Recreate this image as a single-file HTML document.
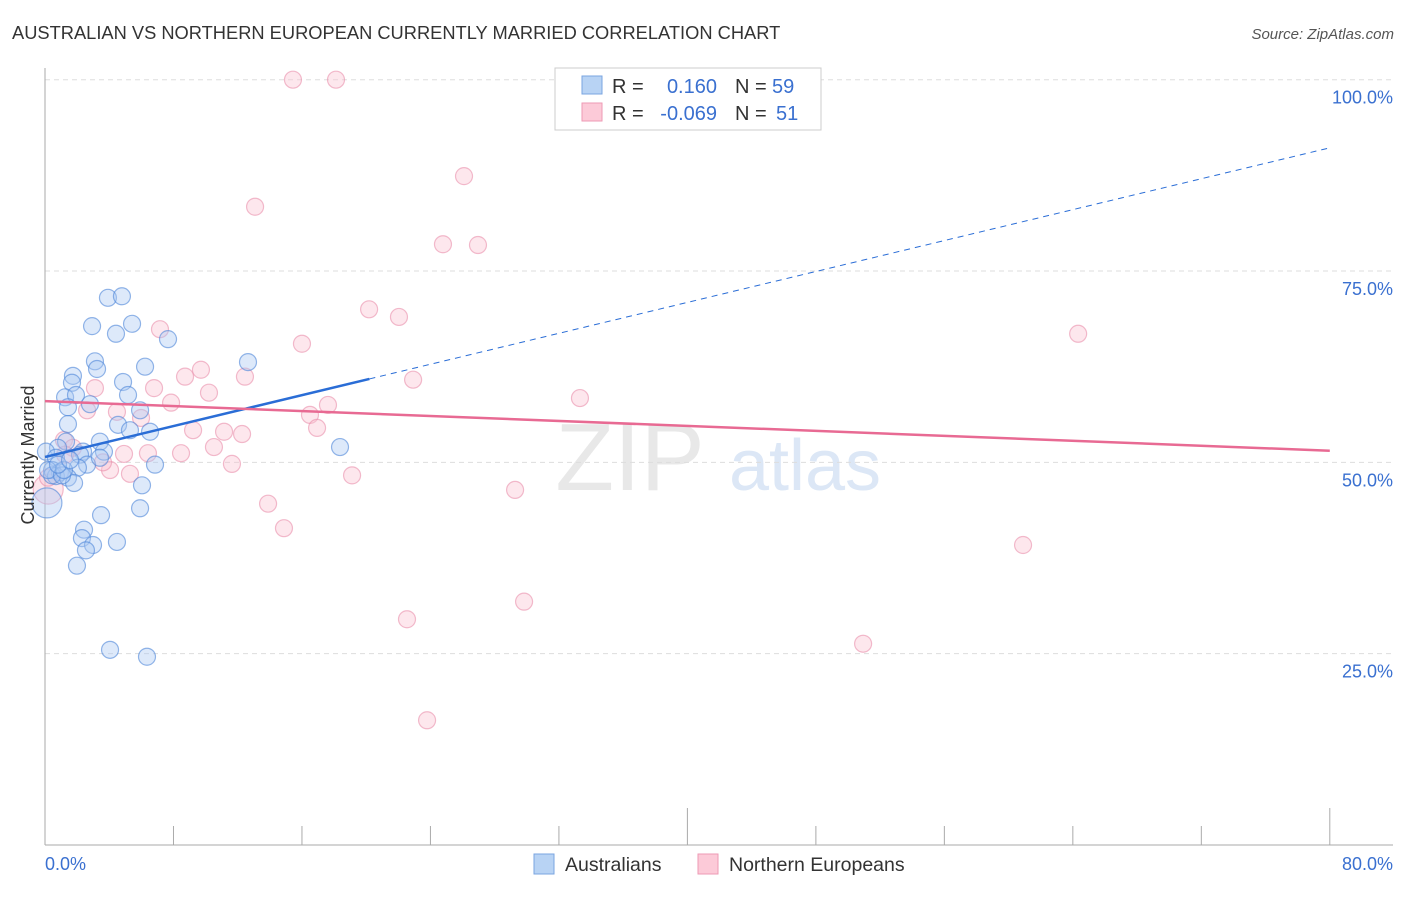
<!DOCTYPE html>
<html><head><meta charset="utf-8"><style>
body{margin:0;background:#fff;font-family:"Liberation Sans",sans-serif;}
svg text{font-family:"Liberation Sans",sans-serif;}
</style></head><body>
<svg id="chart" width="1406" height="892">
<text x="12" y="39" font-size="18.3" fill="#333">AUSTRALIAN VS NORTHERN EUROPEAN CURRENTLY MARRIED CORRELATION CHART</text>
<text x="1394" y="39" font-size="15" fill="#555" text-anchor="end" font-style="italic">Source: ZipAtlas.com</text>
<text x="630" y="490" font-size="96" fill="#e8e8e8" font-family="Liberation Serif" text-anchor="middle">ZIP</text>
<text x="805" y="490" font-size="72" fill="#dce7f6" text-anchor="middle">atlas</text>
<g id="grid"></g><g id="axes"></g><g id="pts"></g><g id="trend"></g>
<text transform="translate(34,455) rotate(-90)" font-size="18" fill="#333" text-anchor="middle">Currently Married</text>
<g>
<rect x="555" y="68" width="266" height="62" fill="#fff" stroke="#ccc"/>
<rect x="582" y="76" width="20" height="18" fill="#b8d3f4" stroke="#7aa5e0"/>
<rect x="582" y="103" width="20" height="18" fill="#fccad8" stroke="#ee9ab4"/>
<text x="612" y="93" font-size="20" fill="#333">R =</text><text x="717" y="93" font-size="20" fill="#3a70d0" text-anchor="end">0.160</text>
<text x="735" y="93" font-size="20" fill="#333">N =</text><text x="772" y="93" font-size="20" fill="#3a70d0">59</text>
<text x="612" y="120" font-size="20" fill="#333">R =</text><text x="717" y="120" font-size="20" fill="#3a70d0" text-anchor="end">-0.069</text>
<text x="735" y="120" font-size="20" fill="#333">N =</text><text x="776" y="120" font-size="20" fill="#3a70d0">51</text>
</g>
<g>
<rect x="534" y="854" width="20" height="20" fill="#b8d3f4" stroke="#7aa5e0"/>
<text x="565" y="871" font-size="19.5" fill="#333">Australians</text>
<rect x="698" y="854" width="20" height="20" fill="#fccad8" stroke="#ee9ab4"/>
<text x="729" y="871" font-size="19.5" fill="#333">Northern Europeans</text>
</g>
</svg>
<script>
const blueX=[3.92,4.79,2.93,5.42,4.42,7.66,3.11,3.24,6.23,12.64,1.74,1.68,4.86,5.17,1.25,1.93,2.80,5.92,1.43,1.43,4.55,6.54,5.29,3.42,1.31,0.81,2.37,3.67,2.18,0.06,0.68,2.62,6.85,2.05,0.44,0.93,0.68,1.43,1.81,0.12,18.37,6.04,5.92,3.49,2.43,2.30,2.99,2.55,4.48,1.99,4.05,6.35,0.44,0.19,1.06,1.18,0.81,1.56,3.42];
const blueY=[71.5,71.7,67.8,68.1,66.8,66.1,63.2,62.2,62.5,63.1,61.3,60.4,60.5,58.8,58.5,58.8,57.6,56.8,57.2,55.0,54.9,54.0,54.2,52.7,52.7,51.9,51.4,51.4,51.0,51.4,50.6,49.7,49.7,49.3,49.0,48.7,48.2,48.0,47.3,44.7,52.0,47.0,44.0,43.1,41.2,40.1,39.2,38.5,39.6,36.5,25.5,24.6,48.3,49.0,48.3,49.0,49.7,50.3,50.6];
const pinkX=[15.44,18.12,26.09,13.08,24.78,26.96,20.18,22.04,64.33,7.16,16.0,9.71,8.72,12.45,22.92,3.11,6.79,10.21,33.31,7.85,17.62,4.48,5.98,16.5,2.62,9.22,16.94,11.15,12.27,1.18,1.74,8.47,6.41,4.92,10.52,11.64,4.05,3.61,5.29,19.12,29.27,13.89,14.88,60.9,29.83,22.54,50.94,23.79,0.20,0.19,1.25];
const pinkY=[100,100,87.4,83.4,78.5,78.4,70.0,69.0,66.8,67.4,65.5,62.1,61.2,61.2,60.8,59.7,59.7,59.1,58.4,57.8,57.5,56.6,55.8,56.2,56.8,54.2,54.5,54.0,53.7,52.9,51.9,51.2,51.2,51.1,52.0,49.8,49.0,50.0,48.5,48.3,46.4,44.6,41.4,39.2,31.8,29.5,26.3,16.3,46.5,48.0,51.0];
const yTicks=[25,50,75,100];
const yTickLabels=["25.0%","50.0%","75.0%","100.0%"];
const xTicks=[0,8,16,24,32,40,48,56,64,72,80];
const xTickLabels=["0.0%","80.0%"];
const blueTrend=[50.7,0.505,20.2];
const pinkTrend=[58.0,-0.081];
const NS='http://www.w3.org/2000/svg';
const X=v=>45+v*16.06, Y=v=>845-v*7.653;
function mk(parent,tag,attrs){const e=document.createElementNS(NS,tag);for(const k in attrs)e.setAttribute(k,attrs[k]);document.getElementById(parent).appendChild(e);return e;}
yTicks.forEach((t,i)=>{
  const l=mk('grid','line',{x1:45,x2:1393,y1:Y(t),y2:Y(t),stroke:'#ddd','stroke-dasharray':'5,4'});
  
  
  const tx=mk('grid','text',{x:1393,y:Y(t)+24,'font-size':18,fill:'#3a70d0','text-anchor':'end'});
  tx.textContent=yTickLabels[i];
  
  
});
const ya=mk('axes','line',{x1:45,x2:45,y1:68,y2:845,stroke:'#aaa'});


const xa=mk('axes','line',{x1:45,x2:1393,y1:845,y2:845,stroke:'#aaa'});


xTicks.forEach((t,i)=>{
  const big=(i===5||i===10);
  const l=mk('axes','line',{x1:X(t),x2:X(t),y1:big?808:826,y2:845,stroke:'#aaa'});
  
  
});
[[0,'start'],[80,'end']].forEach((p,i)=>{
  const tx=mk('axes','text',{x:i?1393:45,y:870,'font-size':18,fill:'#3a70d0','text-anchor':p[1]});
  tx.textContent=xTickLabels[i];
  
  
});
function pts(xs,ys,fill,stroke,name,bigIdx){
  xs.forEach((x,i)=>{
    const big=(i===bigIdx);
    const c=mk('pts','circle',{cx:X(x),cy:Y(ys[i]),r:big?15:8.5,fill:fill,'fill-opacity':0.4,stroke:stroke,'stroke-opacity':0.6,'stroke-width':1.2});
    
    
  });
}
pts(pinkX,pinkY,'#fbc3d3','#ea8fab','point-northern-europeans',48);
pts(blueX,blueY,'#a9c9f2','#4d86d8','point-australians',39);
const bt1=mk('trend','line',{x1:X(0),y1:Y(blueTrend[0]),x2:X(blueTrend[2]),y2:Y(blueTrend[0]+blueTrend[1]*blueTrend[2]),stroke:'#2a6dd6','stroke-width':2.5});


const bt2=mk('trend','line',{x1:X(blueTrend[2]),y1:Y(blueTrend[0]+blueTrend[1]*blueTrend[2]),x2:X(80),y2:Y(blueTrend[0]+blueTrend[1]*80),stroke:'#2a6dd6','stroke-width':1,'stroke-dasharray':'6,5'});


const pt=mk('trend','line',{x1:X(0),y1:Y(pinkTrend[0]),x2:X(80),y2:Y(pinkTrend[0]+pinkTrend[1]*80),stroke:'#e86a93','stroke-width':2.5});


</script>
</body></html>
